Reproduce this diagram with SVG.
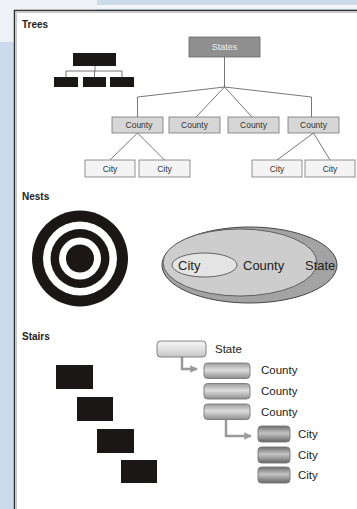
<svg xmlns="http://www.w3.org/2000/svg" width="357" height="509" viewBox="0 0 357 509">
<defs>
<linearGradient id="gState" x1="0" y1="0" x2="0" y2="1">
<stop offset="0" stop-color="#f4f4f4"/><stop offset="0.5" stop-color="#e2e2e2"/><stop offset="1" stop-color="#c4c4c4"/>
</linearGradient>
<linearGradient id="gCounty" x1="0" y1="0" x2="0" y2="1">
<stop offset="0" stop-color="#9a9a9a"/><stop offset="0.45" stop-color="#dedede"/><stop offset="1" stop-color="#8e8e8e"/>
</linearGradient>
<linearGradient id="gCity" x1="0" y1="0" x2="0" y2="1">
<stop offset="0" stop-color="#6e6e6e"/><stop offset="0.45" stop-color="#c4c4c4"/><stop offset="1" stop-color="#666"/>
</linearGradient>
<marker id="ah" viewBox="0 0 10 10" refX="9" refY="5" markerWidth="3" markerHeight="3" orient="auto" markerUnits="strokeWidth">
<path d="M0,0 L10,5 L0,10 z" fill="#9a9a9a"/>
</marker>
</defs>
<style>
.lbl{font-family:"Liberation Sans",Arial,sans-serif;}
.sec{font-size:10px;font-weight:bold;fill:#222;}
.tbox{fill:#d6d6d6;stroke:#777;stroke-width:0.8;}
.cbox{fill:#f4f4f4;stroke:#777;stroke-width:0.8;}
.tt{font-size:8.5px;fill:#333;text-anchor:middle;}
.blk{fill:#1b1717;}
.ln{stroke:#555;stroke-width:0.8;fill:none;}
.arr{stroke:#9a9a9a;stroke-width:2.5;fill:none;}
.st{stroke:#777;stroke-width:0.9;}
.stt{font-size:11.5px;fill:#222;}
.nt{font-size:13px;fill:#222;}
</style>
<rect x="0" y="0" width="357" height="509" fill="#cbdbeb"/>
<rect x="0" y="0" width="97" height="42" fill="#eef1f5"/>
<rect x="97" y="5" width="260" height="4" fill="#f3f6f9"/>
<rect x="14" y="10" width="343" height="499" fill="#ffffff"/>
<path d="M14.5,509 V10.5 H357" fill="none" stroke="#333" stroke-width="1.5"/>
<path d="M16.5,509 V12.5 H357" fill="none" stroke="#bbb" stroke-width="0.8"/>

<text class="lbl sec" x="22" y="28">Trees</text>
<text class="lbl sec" x="22" y="200">Nests</text>
<text class="lbl sec" x="22" y="340">Stairs</text>

<g id="connectors">
<path class="ln" d="M95,66 V71 M66,71 H122 M66,71 V77 M94.5,71 V77 M122,71 V77"/>
<path class="ln" d="M224.5,57 V87 M224.5,87 L137.5,97 V117 M224.5,87 L311.5,97 V117 M224.5,87 L196,117 M224.5,87 L252,117"/>
<path class="ln" d="M137.5,133 L110,160 M137.5,133 L164.5,160 M313.5,133 L277,160 M313.5,133 L330,160"/>
<path class="arr" d="M182,357 V369 H197" marker-end="url(#ah)"/>
<path class="arr" d="M226,420 V436 H251" marker-end="url(#ah)"/>
</g>

<g id="mini-tree">
<rect class="blk" x="73" y="53" width="43" height="13"/>
<rect class="blk" x="54" y="77" width="24" height="10"/>
<rect class="blk" x="83" y="77" width="23" height="10"/>
<rect class="blk" x="110" y="77" width="24" height="10"/>
</g>

<g id="states">
<rect x="189" y="37" width="71" height="20" fill="#8f8f8f" stroke="#666" stroke-width="0.8"/>
<text class="lbl" x="224.5" y="50" font-size="9" fill="#eeeeee" text-anchor="middle">States</text>
</g>
<g id="county1"><rect class="tbox" x="112" y="117" width="51" height="16"/><text class="lbl tt" x="139" y="128">County</text></g>
<g id="county2"><rect class="tbox" x="169" y="117" width="51" height="16"/><text class="lbl tt" x="194.5" y="128">County</text></g>
<g id="county3"><rect class="tbox" x="228" y="117" width="51" height="16"/><text class="lbl tt" x="253.5" y="128">County</text></g>
<g id="county4"><rect class="tbox" x="288" y="117" width="51" height="16"/><text class="lbl tt" x="313.5" y="128">County</text></g>
<g id="city1"><rect class="cbox" x="85" y="160" width="50" height="17"/><text class="lbl tt" x="110" y="171.5">City</text></g>
<g id="city2"><rect class="cbox" x="139" y="160" width="51" height="17"/><text class="lbl tt" x="164.5" y="171.5">City</text></g>
<g id="city3"><rect class="cbox" x="252" y="160" width="50" height="17"/><text class="lbl tt" x="277" y="171.5">City</text></g>
<g id="city4"><rect class="cbox" x="305" y="160" width="50" height="17"/><text class="lbl tt" x="330" y="171.5">City</text></g>

<g id="target">
<circle cx="80" cy="258.5" r="48" fill="#1b1717"/>
<circle cx="80" cy="258.5" r="37" fill="#ffffff"/>
<circle cx="80" cy="258.5" r="29.5" fill="#1b1717"/>
<circle cx="80" cy="258.5" r="21" fill="#ffffff"/>
<circle cx="80" cy="258.5" r="14" fill="#1b1717"/>
</g>

<g id="nest-state"><ellipse cx="249.5" cy="265" rx="87.5" ry="38" fill="#a3a3a3" stroke="#444" stroke-width="1"/></g>
<g id="nest-county"><ellipse cx="240" cy="262.5" rx="77" ry="33.5" fill="#cdcdcd" stroke="#555" stroke-width="0.9"/></g>
<g id="nest-city"><ellipse cx="204.5" cy="265" rx="32.5" ry="12" fill="#e4e4e4" stroke="#555" stroke-width="0.9"/></g>
<text class="lbl nt" x="178" y="270">City</text>
<text class="lbl nt" x="243" y="270">County</text>
<text class="lbl nt" x="305" y="270" font-size="12">State</text>

<g id="stairs-left">
<rect class="blk" x="56" y="365" width="37" height="24"/>
<rect class="blk" x="77" y="397" width="36" height="24"/>
<rect class="blk" x="97" y="429" width="37" height="24"/>
<rect class="blk" x="121" y="460" width="36" height="23"/>
</g>

<g id="s-state"><rect class="st" x="157" y="341" width="49" height="16" rx="3.5" fill="url(#gState)"/><text class="lbl stt" x="215" y="352.5">State</text></g>
<g id="s-county1"><rect class="st" x="204" y="363" width="46" height="15.5" rx="3.5" fill="url(#gCounty)"/><text class="lbl stt" x="261" y="374">County</text></g>
<g id="s-county2"><rect class="st" x="204" y="383.5" width="46" height="15.5" rx="3.5" fill="url(#gCounty)"/><text class="lbl stt" x="261" y="395">County</text></g>
<g id="s-county3"><rect class="st" x="204" y="404" width="46" height="15.5" rx="3.5" fill="url(#gCounty)"/><text class="lbl stt" x="261" y="415.5">County</text></g>
<g id="s-city1"><rect class="st" x="258" y="426" width="32" height="16" rx="3.5" fill="url(#gCity)"/><text class="lbl stt" x="298" y="437.5">City</text></g>
<g id="s-city2"><rect class="st" x="258" y="447" width="32" height="16" rx="3.5" fill="url(#gCity)"/><text class="lbl stt" x="298" y="458.5">City</text></g>
<g id="s-city3"><rect class="st" x="258" y="467" width="32" height="16" rx="3.5" fill="url(#gCity)"/><text class="lbl stt" x="298" y="478.5">City</text></g>
</svg>
